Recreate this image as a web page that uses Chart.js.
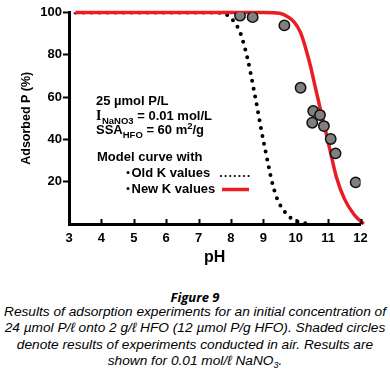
<!DOCTYPE html>
<html><head><meta charset="utf-8">
<script src="https://cdn.jsdelivr.net/npm/chart.js@4/dist/chart.umd.min.js"></script>
<style>
html,body{margin:0;padding:0;background:#fff;width:390px;height:371px;overflow:hidden}
#wrap{position:relative;width:390px;height:285px}
.fig{font-family:'Open Sans',sans-serif;font-weight:700;font-style:italic;font-size:13px;line-height:14px;text-align:center;margin-top:5px;color:#000}
.cap{font-family:'Liberation Sans',Arial,sans-serif;font-style:italic;font-size:13.7px;line-height:16.4px;text-align:center;white-space:nowrap;color:#000}
.cap sub{font-size:9px;vertical-align:-3px;line-height:0}
</style></head><body>
<div id="wrap"><canvas id="c" width="390" height="285"></canvas></div>
<div class="fig">Figure 9</div>
<div class="cap">Results of adsorption experiments for an initial concentration of<br>24 µmol P/ℓ onto 2 g/ℓ HFO (12 µmol P/g HFO). Shaded circles<br>denote results of experiments conducted in air. Results are<br>shown for 0.01 mol/ℓ NaNO<sub>3</sub>.</div>
<script>
// ---- data ----
const xTicks = [3, 4, 5, 6, 7, 8, 9, 10, 11, 12];
const yTicks = [20, 40, 60, 80, 100];

// measured (shaded circles)
const obsPH  = [8.28, 8.67, 9.65, 10.15, 10.54, 10.75, 10.51, 10.87, 11.08, 11.23, 11.85];
const obsAds = [98.5, 97.8, 93.9, 64.4, 53.4, 51.5, 47.9, 46.3, 40.2, 33.4, 19.7];

// model curve, new K values
const newPH  = [3.2, 9.0, 9.5, 9.75, 9.95, 10.15, 10.3, 10.45, 10.6, 10.75, 10.9, 11.05, 11.25, 11.5, 11.8, 12.1];
const newAds = [100, 100, 99.6, 98, 95.5, 90.5, 83.5, 75, 65, 55, 45.5, 35.5, 22.5, 12, 4.5, 0];

// model curve, old K values
const oldPH  = [3.2, 7.5, 7.76, 7.97, 8.12, 8.26, 8.38, 8.5, 8.6, 8.7, 8.8, 8.9, 9.0, 9.1, 9.2, 9.3, 9.4, 9.5, 9.6, 9.8, 10.0, 10.3, 10.5];
const oldAds = [100, 100, 99.5, 98, 95, 91.5, 86, 79, 72, 64, 56, 47.5, 39.5, 32, 24.5, 18, 13, 9.5, 7, 3.5, 1.5, 0.3, 0];

const pts = (xs, ys) => xs.map((x, i) => ({x: x, y: ys[i]}));

const FONT = "'Liberation Sans', Arial, sans-serif";

const extras = {
  id: 'extras',
  afterDraw(chart) {
    const ctx = chart.ctx;
    const xs = chart.scales.x;
    const bottom = chart.chartArea.bottom;
    ctx.save();
    // inward x ticks
    ctx.strokeStyle = '#000';
    ctx.lineWidth = 2;
    xTicks.slice(1).forEach(v => {
      const px = Math.round(xs.getPixelForValue(v)) + 0.5;
      ctx.beginPath();
      ctx.moveTo(px, bottom);
      ctx.lineTo(px, bottom - 5);
      ctx.stroke();
    });
    // annotation text
    ctx.fillStyle = '#000';
    ctx.textBaseline = 'alphabetic';
    ctx.textAlign = 'left';
    const main = 'bold 13px ' + FONT;
    const sub = 'bold 9.5px ' + FONT;
    ctx.font = main;
    ctx.fillText('25 µmol P/L', 96, 105);
    // I_NaNO3 line
    let x = 96;
    ctx.font = "bold 14px 'Liberation Serif', serif";
    ctx.fillText('I', x, 120); x += ctx.measureText('I').width + 0.5;
    ctx.font = sub; ctx.fillText('NaNO3', x, 123.5); x += ctx.measureText('NaNO3').width;
    ctx.font = main; ctx.fillText(' = 0.01 mol/L', x, 120);
    // SSA line
    x = 96;
    ctx.font = main; ctx.fillText('SSA', x, 134); x += ctx.measureText('SSA').width;
    ctx.font = sub; ctx.fillText('HFO', x, 137.5); x += ctx.measureText('HFO').width;
    ctx.font = main; ctx.fillText(' = 60 m', x, 134); x += ctx.measureText(' = 60 m').width;
    ctx.font = sub; ctx.fillText('2', x, 129); x += ctx.measureText('2').width;
    ctx.font = main; ctx.fillText('/g', x, 134);
    // legend block
    ctx.fillText('Model curve with', 97, 161);
    ctx.beginPath(); ctx.arc(128, 172.5, 1.5, 0, Math.PI * 2); ctx.fill();
    ctx.fillText('Old K values', 131.5, 177);
    ctx.beginPath(); ctx.arc(128, 188.5, 1.5, 0, Math.PI * 2); ctx.fill();
    ctx.fillText('New K values', 131.5, 193);
    for (let dx = 221; dx <= 250; dx += 4.6) {
      ctx.beginPath(); ctx.arc(dx, 176, 1.1, 0, Math.PI * 2); ctx.fill();
    }
    ctx.strokeStyle = '#ea1c24';
    ctx.lineWidth = 3.5;
    ctx.beginPath(); ctx.moveTo(222, 189.5); ctx.lineTo(249, 189.5); ctx.stroke();
    ctx.restore();
  }
};

Chart.defaults.font.family = FONT;
Chart.defaults.color = '#000';

new Chart(document.getElementById('c'), {
  type: 'scatter',
  data: {
    datasets: [
      {
        label: 'Measured',
        data: pts(obsPH, obsAds),
        backgroundColor: '#808080',
        borderColor: '#111',
        borderWidth: 1.5,
        pointRadius: 5.2,
        showLine: false
      },
      {
        label: 'New K values',
        data: pts(newPH, newAds),
        showLine: true,
        borderColor: '#ea1c24',
        borderWidth: 3.5,
        pointRadius: 0,
        cubicInterpolationMode: 'monotone',
        clip: false
      },
      {
        label: 'Old K values',
        data: pts(oldPH, oldAds),
        showLine: true,
        borderColor: '#000',
        borderWidth: 4,
        borderDash: [0, 8],
        borderCapStyle: 'round',
        pointRadius: 0,
        cubicInterpolationMode: 'monotone'
      }
    ]
  },
  options: {
    responsive: false,
    animation: false,
    devicePixelRatio: 1,
    layout: { padding: { top: 12.5, right: 29.5, left: 0, bottom: 0 } },
    plugins: { legend: { display: false }, tooltip: { enabled: false } },
    scales: {
      x: {
        type: 'linear',
        min: 3, max: 12,
        afterFit: s => { s.height = 61; },
        afterBuildTicks: s => { s.ticks = xTicks.map(v => ({value: v})); },
        ticks: { font: { size: 13, weight: 'bold' }, padding: 7, maxRotation: 0 },
        grid: { display: false, drawTicks: false },
        border: { display: true, color: '#000', width: 3 },
        title: { display: true, text: 'pH', font: { size: 16, weight: 'bold' }, padding: { top: 0, bottom: 18 } }
      },
      y: {
        type: 'linear',
        min: 0, max: 100,
        afterFit: s => { s.width = 69; },
        afterBuildTicks: s => { s.ticks = [0].concat(yTicks).map(v => ({value: v})); },
        ticks: { font: { size: 13, weight: 'bold' }, padding: 1, callback: v => (v === 0 ? '' : v) },
        grid: {
          display: true, drawOnChartArea: false, drawTicks: true, tickLength: 6,
          tickWidth: 2,
          tickColor: c => (c.tick && c.tick.value === 0 ? 'rgba(0,0,0,0)' : '#000')
        },
        border: { display: true, color: '#000', width: 3 },
        title: { display: true, text: 'Adsorbed P (%)', font: { size: 12.5, weight: 'bold' }, padding: { top: 19, bottom: 0 } }
      }
    }
  },
  plugins: [extras]
});
</script>
</body></html>
